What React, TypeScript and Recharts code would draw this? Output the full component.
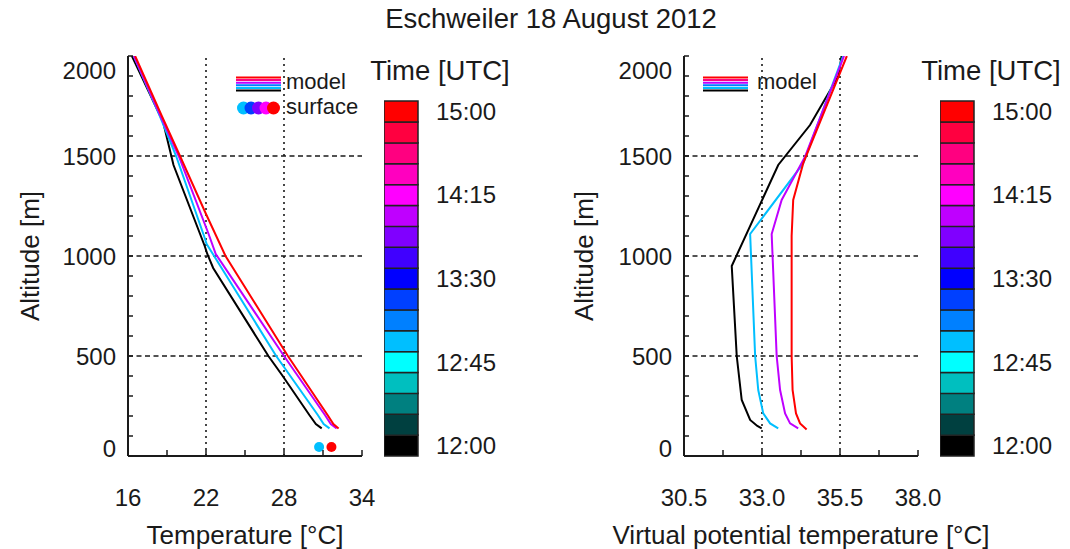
import React from "react";
import {
  Bar,
  BarChart,
  Cell,
  ReferenceLine,
  Scatter,
  ScatterChart,
  XAxis,
  YAxis,
} from "recharts";

const FONT = '"Liberation Sans", Arial, Helvetica, sans-serif';
const INK = "#1a1a1a";

// ---- temperature profiles [°C] vs altitude [m]
const temp1200 = [
  { alt: 138, t: 30.9 },
  { alt: 160, t: 30.45 },
  { alt: 205, t: 29.95 },
  { alt: 400, t: 27.9 },
  { alt: 500, t: 26.8 },
  { alt: 940, t: 22.55 },
  { alt: 1010, t: 22.1 },
  { alt: 1050, t: 21.9 },
  { alt: 1455, t: 19.5 },
  { alt: 1670, t: 18.7 },
  { alt: 2000, t: 16.3 },
];
const temp1300 = [
  { alt: 138, t: 31.5 },
  { alt: 160, t: 31.05 },
  { alt: 205, t: 30.6 },
  { alt: 500, t: 27.4 },
  { alt: 1060, t: 22.05 },
  { alt: 1100, t: 21.85 },
  { alt: 1500, t: 19.7 },
  { alt: 1700, t: 18.45 },
  { alt: 2000, t: 16.45 },
];
const temp1400 = [
  { alt: 138, t: 32.05 },
  { alt: 160, t: 31.6 },
  { alt: 205, t: 31.15 },
  { alt: 500, t: 28.0 },
  { alt: 1010, t: 22.75 },
  { alt: 1110, t: 22.2 },
  { alt: 1500, t: 19.9 },
  { alt: 1700, t: 18.5 },
  { alt: 2000, t: 16.45 },
];
const temp1500 = [
  { alt: 138, t: 32.2 },
  { alt: 160, t: 31.8 },
  { alt: 205, t: 31.35 },
  { alt: 500, t: 28.3 },
  { alt: 1000, t: 23.5 },
  { alt: 1210, t: 22.0 },
  { alt: 1500, t: 20.0 },
  { alt: 1700, t: 18.6 },
  { alt: 2000, t: 16.55 },
];
const surface1300 = [{ alt: 45, t: 30.7 }];
const surface1500 = [{ alt: 45, t: 31.65 }];

// ---- virtual potential temperature profiles [°C]
const thv1200 = [
  { alt: 138, tv: 32.99 },
  { alt: 150, tv: 32.85 },
  { alt: 180, tv: 32.62 },
  { alt: 280, tv: 32.35 },
  { alt: 500, tv: 32.19 },
  { alt: 950, tv: 32.03 },
  { alt: 1455, tv: 33.52 },
  { alt: 1655, tv: 34.54 },
  { alt: 1900, tv: 35.45 },
  { alt: 2000, tv: 35.55 },
];
const thv1300 = [
  { alt: 138, tv: 33.52 },
  { alt: 163, tv: 33.26 },
  { alt: 213, tv: 33.04 },
  { alt: 330, tv: 32.88 },
  { alt: 500, tv: 32.78 },
  { alt: 1110, tv: 32.62 },
  { alt: 1463, tv: 34.32 },
  { alt: 2000, tv: 35.6 },
];
const thv1400 = [
  { alt: 138, tv: 34.16 },
  { alt: 163, tv: 33.9 },
  { alt: 213, tv: 33.74 },
  { alt: 330, tv: 33.58 },
  { alt: 500, tv: 33.47 },
  { alt: 1110, tv: 33.31 },
  { alt: 1280, tv: 33.63 },
  { alt: 1497, tv: 34.38 },
  { alt: 2000, tv: 35.63 },
];
const thv1500 = [
  { alt: 133, tv: 34.43 },
  { alt: 163, tv: 34.22 },
  { alt: 213, tv: 34.09 },
  { alt: 330, tv: 33.98 },
  { alt: 500, tv: 33.95 },
  { alt: 1100, tv: 33.95 },
  { alt: 1280, tv: 34.0 },
  { alt: 1463, tv: 34.32 },
  { alt: 2000, tv: 35.72 },
];

const COLOR_1200 = "#000000";
const COLOR_1300 = "#00BFFF";
const COLOR_1400 = "#BF00FF";
const COLOR_1500 = "#FF0000";

// ---- axes
const altTicks = [
  0, 100, 200, 300, 400, 500, 600, 700, 800, 900, 1000, 1100, 1200, 1300,
  1400, 1500, 1600, 1700, 1800, 1900, 2000,
];
const altLabels = [0, 500, 1000, 1500, 2000];
const altGrid = [500, 1000, 1500];

const tempTicks = [16, 19, 22, 25, 28, 31, 34];
const tempLabels = [16, 22, 28, 34];
const tempGrid = [22, 28];

const thvTicks = [30.5, 31.75, 33.0, 34.25, 35.5, 36.75, 38.0];
const thvLabels = [30.5, 33.0, 35.5, 38.0];
const thvGrid = [33.0, 35.5];

// ---- time colour bar
const barTimes = [
  "12:00", "12:11", "12:22", "12:34", "12:45", "12:56", "13:08", "13:19",
  "13:30", "13:41", "13:53", "14:04", "14:15", "14:26", "14:38", "14:49",
  "15:00",
];
const barColors = [
  "#000000", "#004040", "#008080", "#00BFBF", "#00FFFF", "#00BFFF", "#0080FF",
  "#0040FF", "#0000FF", "#4000FF", "#8000FF", "#BF00FF", "#FF00FF", "#FF00BF",
  "#FF0080", "#FF0040", "#FF0000",
];
const barData = barTimes.map((time) => ({ time, span: 1 }));

const legendLineColors = ["#FF0000", "#FF0080", "#BF00FF", "#0080FF", "#00BFFF", "#000000"];
const legendDotColors = ["#00BFFF", "#0040FF", "#8000FF", "#FF00FF", "#FF0000"];

// tick marks point into the frame, IDL style
const X_TICK = 6;
const Y_TICK = 5;
const X_LABEL_GAP = 41;
const Y_LABEL_GAP = 12;

const hasLabel = (labels: number[], v: number) => labels.some((l) => Math.abs(l - v) < 1e-6);

const tickLineProps = { stroke: INK, strokeWidth: 1.5 };

const bottomTick = (labels: number[], digits: number) => (props: any) => {
  const { x, y, payload } = props;
  const v = payload.value;
  const axisY = y - X_LABEL_GAP;
  return (
    <g>
      <line x1={x} x2={x} y1={axisY} y2={axisY - X_TICK} {...tickLineProps} />
      {hasLabel(labels, v) && (
        <text x={x} y={y} dy="0.36em" textAnchor="middle" fontSize={24} fill={INK} fontFamily={FONT}>
          {v.toFixed(digits)}
        </text>
      )}
    </g>
  );
};

const LeftTick = (props: any) => {
  const { x, y, payload } = props;
  const v = payload.value;
  const axisX = x + Y_LABEL_GAP;
  // end labels sit inside the frame
  const shift = v === 2000 ? 14 : v === 0 ? -8 : 0;
  return (
    <g>
      <line x1={axisX} x2={axisX + Y_TICK} y1={y} y2={y} {...tickLineProps} />
      {altLabels.includes(v) && (
        <text x={x} y={y + shift} dy="0.36em" textAnchor="end" fontSize={24} fill={INK} fontFamily={FONT}>
          {v}
        </text>
      )}
    </g>
  );
};

const TopTick = (props: any) => (
  <line x1={props.x} x2={props.x} y1={props.y} y2={props.y + X_TICK} {...tickLineProps} />
);
const RightTick = (props: any) => (
  <line x1={props.x} x2={props.x - Y_TICK} y1={props.y} y2={props.y} {...tickLineProps} />
);

const noShape = () => <g />;
const dot = (fill: string) => (p: any) => <circle cx={p.cx} cy={p.cy} r={5} fill={fill} />;

type Series = { data: any[]; color: string };

function Profile({
  series,
  xKey,
  domain,
  ticks,
  labels,
  grid,
  digits,
  surface,
}: {
  series: Series[];
  xKey: string;
  domain: [number, number];
  ticks: number[];
  labels: number[];
  grid: number[];
  digits: number;
  surface?: Series[];
}) {
  const axisStroke = { stroke: INK, strokeWidth: 2 };
  return (
    <ScatterChart width={400} height={549} margin={{ top: 56, right: 38, bottom: 0, left: 0 }}>
      <XAxis
        type="number"
        dataKey={xKey}
        domain={domain}
        ticks={ticks}
        allowDataOverflow
        height={93}
        tickSize={0}
        tickMargin={X_LABEL_GAP}
        axisLine={axisStroke}
        tickLine={false}
        tick={bottomTick(labels, digits)}
        interval={0}
      />
      <XAxis
        xAxisId="top"
        orientation="top"
        type="number"
        domain={domain}
        ticks={ticks}
        allowDataOverflow
        height={0}
        tickSize={0}
        tickMargin={0}
        axisLine={axisStroke}
        tickLine={false}
        tick={TopTick}
        interval={0}
      />
      <YAxis
        type="number"
        dataKey="alt"
        domain={[0, 2000]}
        ticks={altTicks}
        allowDataOverflow
        width={128}
        tickSize={0}
        tickMargin={Y_LABEL_GAP}
        axisLine={axisStroke}
        tickLine={false}
        tick={LeftTick}
        interval={0}
      />
      <YAxis
        yAxisId="right"
        orientation="right"
        type="number"
        domain={[0, 2000]}
        ticks={altTicks}
        allowDataOverflow
        width={0}
        tickSize={0}
        tickMargin={0}
        axisLine={axisStroke}
        tickLine={false}
        tick={RightTick}
        interval={0}
      />
      {grid.map((g) => (
        <ReferenceLine key={`v${g}`} x={g} stroke={INK} strokeWidth={1.6} strokeDasharray="2 4" />
      ))}
      {altGrid.map((g) => (
        <ReferenceLine key={`h${g}`} y={g} stroke={INK} strokeWidth={1.6} strokeDasharray="5 3.5" />
      ))}
      {series.map((s, i) => (
        <Scatter
          key={i}
          data={s.data}
          line={{ stroke: s.color, strokeWidth: 2 }}
          shape={noShape}
          isAnimationActive={false}
        />
      ))}
      {(surface || []).map((s, i) => (
        <Scatter key={`s${i}`} data={s.data} shape={dot(s.color)} isAnimationActive={false} />
      ))}
    </ScatterChart>
  );
}

function ColorBar() {
  return (
    <BarChart
      layout="vertical"
      width={124}
      height={375}
      data={barData}
      margin={{ top: 10, right: 0, bottom: 10, left: 0 }}
      barCategoryGap={0}
    >
      <XAxis type="number" domain={[0, 1]} hide />
      <YAxis
        type="category"
        dataKey="time"
        orientation="right"
        reversed
        width={90}
        interval={3}
        tickLine={false}
        axisLine={false}
        tickSize={0}
        tickMargin={18}
        tick={{ fontSize: 24, fill: INK, fontFamily: FONT }}
      />
      <Bar dataKey="span" stroke="#222" strokeWidth={1.5} isAnimationActive={false}>
        {barData.map((_d, i) => (
          <Cell key={`c-${i}`} fill={barColors[i]} />
        ))}
      </Bar>
    </BarChart>
  );
}

const abs = (left: number, top: number): React.CSSProperties => ({
  position: "absolute",
  left,
  top,
});

function LegendLines({ left, top }: { left: number; top: number }) {
  return (
    <svg style={abs(left, top)} width={46} height={16}>
      {legendLineColors.map((c, i) => (
        <line key={c} x1={0} x2={45} y1={1.5 + i * 2.6} y2={1.5 + i * 2.6} stroke={c} strokeWidth={2} />
      ))}
    </svg>
  );
}

function LegendDots({ left, top }: { left: number; top: number }) {
  return (
    <svg style={abs(left, top)} width={46} height={16}>
      {legendDotColors.map((c, i) => (
        <circle key={c} cx={6.5 + i * 7.5} cy={8} r={6.5} fill={c} />
      ))}
    </svg>
  );
}

const textStyle = (size: number): React.CSSProperties => ({
  fontSize: size,
  lineHeight: `${size}px`,
  color: INK,
  whiteSpace: "nowrap",
});

function CenteredText({ cx, cy, size, children }: { cx: number; cy: number; size: number; children: React.ReactNode }) {
  return (
    <div style={{ ...abs(cx - 250, cy - size / 2), width: 500, textAlign: "center", ...textStyle(size) }}>
      {children}
    </div>
  );
}

function VerticalText({ cx, cy, size, children }: { cx: number; cy: number; size: number; children: React.ReactNode }) {
  return (
    <div
      style={{
        ...abs(cx - 150, cy - size / 2),
        width: 300,
        textAlign: "center",
        transform: "rotate(-90deg)",
        ...textStyle(size),
      }}
    >
      {children}
    </div>
  );
}

export default function App() {
  return (
    <div
      style={{
        position: "absolute",
        left: 0,
        top: 0,
        width: 1070,
        height: 549,
        background: "#fff",
        fontFamily: FONT,
        overflow: "hidden",
      }}
    >
      <CenteredText cx={551} cy={19} size={27.5}>Eschweiler 18 August 2012</CenteredText>

      {/* temperature panel */}
      <div style={abs(0, 0)}>
        <Profile
          series={[
            { data: temp1200, color: COLOR_1200 },
            { data: temp1300, color: COLOR_1300 },
            { data: temp1400, color: COLOR_1400 },
            { data: temp1500, color: COLOR_1500 },
          ]}
          xKey="t"
          domain={[16, 34]}
          ticks={tempTicks}
          labels={tempLabels}
          grid={tempGrid}
          digits={0}
          surface={[
            { data: surface1300, color: COLOR_1300 },
            { data: surface1500, color: COLOR_1500 },
          ]}
        />
      </div>
      <VerticalText cx={30} cy={256} size={26}>Altitude [m]</VerticalText>
      <CenteredText cx={245} cy={535} size={26}>Temperature [°C]</CenteredText>
      <LegendLines left={236} top={76} />
      <div style={{ ...abs(286, 71), ...textStyle(22) }}>model</div>
      <LegendDots left={237} top={100} />
      <div style={{ ...abs(286, 96), ...textStyle(22) }}>surface</div>

      {/* virtual potential temperature panel */}
      <div style={abs(556, 0)}>
        <Profile
          series={[
            { data: thv1200, color: COLOR_1200 },
            { data: thv1300, color: COLOR_1300 },
            { data: thv1400, color: COLOR_1400 },
            { data: thv1500, color: COLOR_1500 },
          ]}
          xKey="tv"
          domain={[30.5, 38.0]}
          ticks={thvTicks}
          labels={thvLabels}
          grid={thvGrid}
          digits={1}
        />
      </div>
      <VerticalText cx={584} cy={256} size={26}>Altitude [m]</VerticalText>
      <CenteredText cx={801} cy={535} size={26}>Virtual potential temperature [°C]</CenteredText>
      <LegendLines left={703} top={76} />
      <div style={{ ...abs(757, 71), ...textStyle(22) }}>model</div>

      {/* time colour bars */}
      <CenteredText cx={440} cy={71} size={27.5}>Time [UTC]</CenteredText>
      <div style={abs(384, 91)}>
        <ColorBar />
      </div>
      <CenteredText cx={991} cy={71} size={27.5}>Time [UTC]</CenteredText>
      <div style={abs(940, 91)}>
        <ColorBar />
      </div>
    </div>
  );
}
